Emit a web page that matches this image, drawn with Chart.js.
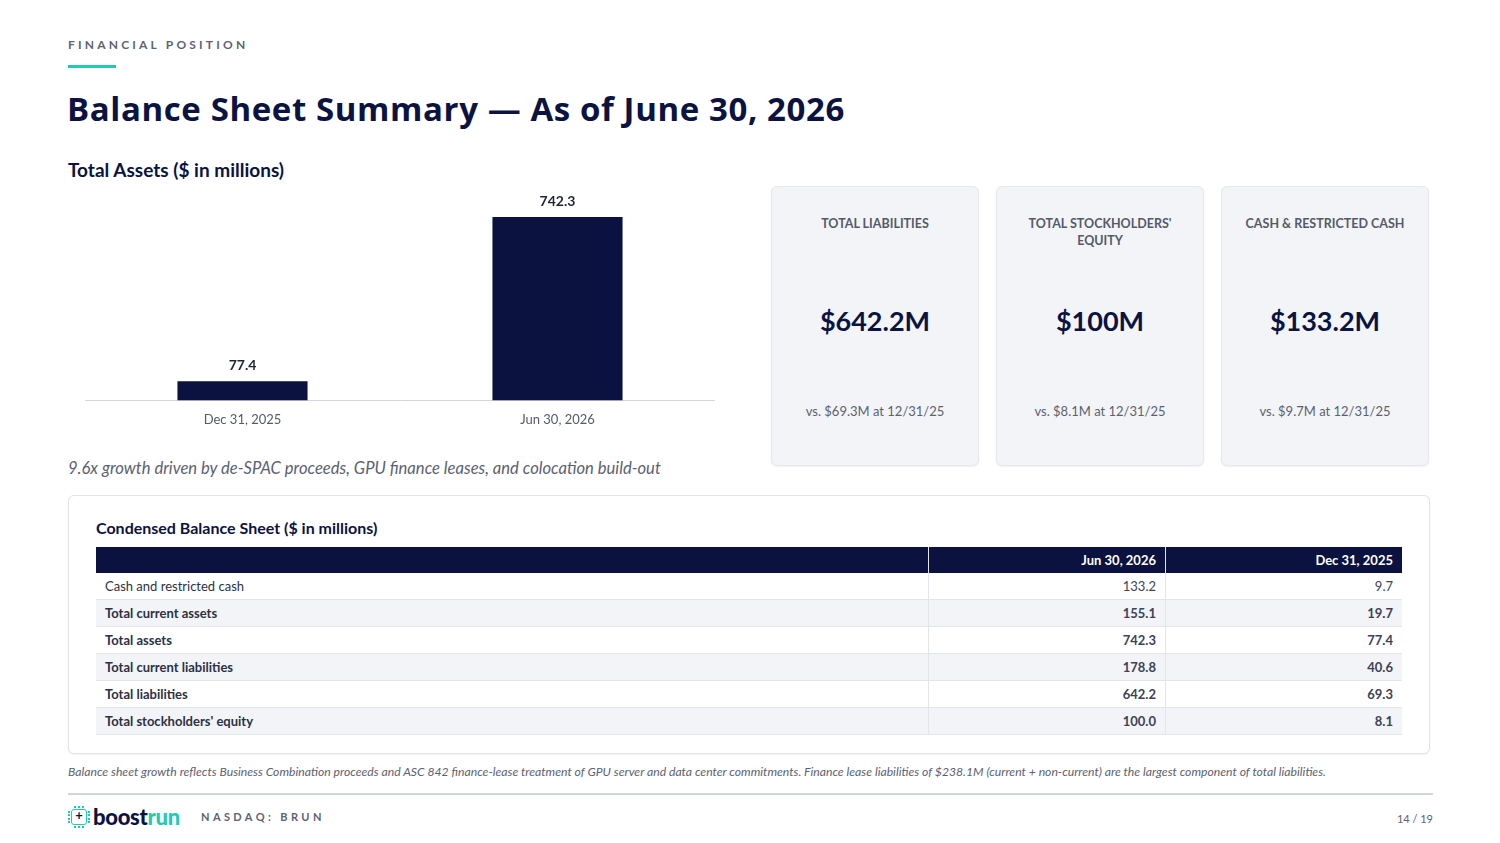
<!DOCTYPE html>
<html>
<head>
<meta charset="utf-8">
<script src="https://cdn.jsdelivr.net/npm/chart.js@4.4.1/dist/chart.umd.min.js"></script>
<style>
  html, body { margin: 0; padding: 0; background: #fff; }
  body { width: 1500px; height: 843px; position: relative; overflow: hidden;
         font-family: Lato, sans-serif; color: #0b1340; }
  .abs { position: absolute; }
  .kicker { left: 68px; top: 37px; font-size: 12px; font-weight: 700; letter-spacing: 3.2px; color: #5d6272; }
  .accent { left: 68px; top: 65px; width: 48px; height: 3px; background: #1ecbb3; }
  .title { left: 67px; top: 86px; font-family: "Open Sans", sans-serif; font-size: 33px; font-weight: 700;
           color: #0b1340; white-space: nowrap; letter-spacing: 0.6px; }
  .subhead { left: 68px; top: 158px; font-size: 19px; font-weight: 700; color: #0b1340; }
  .caption { left: 68px; top: 458px; font-size: 16.6px; font-style: italic; color: #5c6170; white-space: nowrap; }
  .card { top: 186px; width: 208px; height: 280px; background: #f3f4f7; border: 1px solid #e6e8ec;
          border-radius: 6px; box-sizing: border-box; box-shadow: 0 1px 2px rgba(0,0,0,0.06); text-align: center; }
  .card .lbl { position: absolute; left: 6px; right: 6px; top: 28px; font-size: 12.5px; font-weight: 700;
               color: #545a6a; line-height: 17px; }
  .card .val { position: absolute; left: 0; right: 0; top: 117px; font-size: 27px; font-weight: 700; color: #0b1340; }
  .card .sub { position: absolute; left: 0; right: 0; top: 216px; font-size: 13px; color: #5c6170; }
  .panel { left: 68px; top: 495px; width: 1362px; height: 259px; border: 1px solid #e1e3e8; border-radius: 6px;
           box-sizing: border-box; background: #fff; box-shadow: 0 1px 2px rgba(0,0,0,0.05); }
  .panel h3 { position: absolute; left: 27px; top: 22px; margin: 0; font-size: 16px; font-weight: 700; color: #0b1340; }
  table { position: absolute; left: 27px; top: 51px; width: 1306px; border-collapse: collapse; font-size: 13px; }
  th { background: #0b1240; color: #fff; height: 26px; text-align: right; padding: 0 9px; font-weight: 700; }
  td { height: 26px; padding: 0 9px; border-bottom: 1px solid #e3e5ea; color: #3c4258; }
  td.num { text-align: right; }
  tr.alt td { background: #f3f4f7; }
  td.name { text-align: left; color: #2c3144; }
  tr.bold td { font-weight: 700; }
  th + th, td + td { border-left: 1px solid #e3e5ea; }
  .foot { left: 68px; top: 764px; font-size: 12.2px; font-style: italic; color: #5c6170; white-space: nowrap; }
  .rule { left: 68px; top: 793px; width: 1365px; height: 2px; background: #d3d5dc; }
  .logo { left: 68px; top: 806px; height: 24px; }
  .chip { position: absolute; left: 3px; top: 3px; width: 16px; height: 16px; border: 1.5px solid #1ecbb3;
          border-radius: 3px; box-sizing: border-box; }
  .chip:before { content: "+"; position: absolute; left: 0; right: 0; top: -3px; text-align: center;
                 font-size: 13px; font-weight: 700; color: #0b1340; }
  .pins { position: absolute; left: 0; top: 5px; width: 22px; height: 12px;
          border-left: 2px dotted #1ecbb3; border-right: 2px dotted #1ecbb3; box-sizing: border-box; }
  .pins2 { position: absolute; left: 6px; top: 0; width: 10px; height: 22px;
           border-top: 2px dotted #1ecbb3; border-bottom: 2px dotted #1ecbb3; box-sizing: border-box; }
  .word { position: absolute; left: 25px; top: -3px; font-size: 22px; font-weight: 900; letter-spacing: -0.3px;
          white-space: nowrap; }
  .word .a { color: #0b1340; } .word .b { color: #1ecbb3; }
  .ticker { left: 201px; top: 810px; font-size: 11px; font-weight: 700; letter-spacing: 3.4px; color: #5d6272; }
  .page { right: 67px; top: 812px; font-size: 11px; color: #5d6272; }
  #chartBox { left: 85px; top: 188px; width: 630px; height: 252px; }
</style>
</head>
<body>
<div class="abs kicker">FINANCIAL POSITION</div>
<div class="abs accent"></div>
<div class="abs title">Balance Sheet Summary — As of June 30, 2026</div>
<div class="abs subhead">Total Assets ($ in millions)</div>
<div class="abs" id="chartBox"><canvas id="assets_chart"></canvas></div>
<div class="abs caption">9.6x growth driven by de-SPAC proceeds, GPU finance leases, and colocation build-out</div>

<div id="cards"></div>

<div class="abs panel">
  <h3>Condensed Balance Sheet ($ in millions)</h3>
  <table id="bs_table"></table>
</div>

<div class="abs foot">Balance sheet growth reflects Business Combination proceeds and ASC 842 finance-lease treatment of GPU server and data center commitments. Finance lease liabilities of $238.1M (current + non-current) are the largest component of total liabilities.</div>
<div class="abs rule"></div>
<div class="abs logo"><div class="pins"></div><div class="pins2"></div><div class="chip"></div><div class="word"><span class="a">boost</span><span class="b">run</span></div></div>
<div class="abs ticker">NASDAQ: BRUN</div>
<div class="abs page">14 / 19</div>

<script>
// chart data
const assetLabels = ["Dec 31, 2025", "Jun 30, 2026"];
const assetValues = [77.4, 742.3];

// KPI cards
const cardTitles = ["TOTAL LIABILITIES", "TOTAL STOCKHOLDERS'<br>EQUITY", "CASH &amp; RESTRICTED CASH"];
const cardValues = ["$642.2M", "$100M", "$133.2M"];
const cardNotes = ["vs. $69.3M at 12/31/25", "vs. $8.1M at 12/31/25", "vs. $9.7M at 12/31/25"];

// condensed balance sheet
const tableCols = ["", "Jun 30, 2026", "Dec 31, 2025"];
const tableRows = ["Cash and restricted cash", "Total current assets", "Total assets",
                   "Total current liabilities", "Total liabilities", "Total stockholders' equity"];
const jun2026 = ["133.2", "155.1", "742.3", "178.8", "642.2", "100.0"];
const dec2025 = ["9.7", "19.7", "77.4", "40.6", "69.3", "8.1"];

let cardsHtml = "";
for (let i = 0; i < cardTitles.length; i++) {
    cardsHtml += '<div class="abs card" style="left:' + (771 + i * 225) + 'px">' +
        '<div class="lbl">' + cardTitles[i] + '</div>' +
        '<div class="val">' + cardValues[i] + '</div>' +
        '<div class="sub">' + cardNotes[i] + '</div></div>';
}
document.getElementById("cards").innerHTML = cardsHtml;

let tableHtml = '<tr><th style="width:814px"></th><th style="width:218px">' + tableCols[1] +
                '</th><th>' + tableCols[2] + '</th></tr>';
for (let i = 0; i < tableRows.length; i++) {
    const cls = (i % 2 === 1 ? "alt " : "") + (i > 0 ? "bold" : "");
    tableHtml += '<tr class="' + cls + '"><td class="name">' + tableRows[i] + '</td><td class="num">' +
                 jun2026[i] + '</td><td class="num">' + dec2025[i] + '</td></tr>';
}
document.getElementById("bs_table").innerHTML = tableHtml;

const valueLabels = {
    id: "valueLabels",
    afterDatasetsDraw(chart) {
        const ctx = chart.ctx;
        const meta = chart.getDatasetMeta(0);
        ctx.save();
        ctx.font = "bold 14px Lato, sans-serif";
        ctx.fillStyle = "#1f2333";
        ctx.textAlign = "center";
        ctx.textBaseline = "bottom";
        meta.data.forEach((bar, i) => {
            ctx.fillText(chart.data.datasets[0].data[i].toFixed(1), bar.x, bar.y - 9);
        });
        ctx.restore();
    }
};

const assetsCtx = document.getElementById("assets_chart").getContext("2d");
const assetsChart = new Chart(assetsCtx, {
    type: "bar",
    data: {
        labels: assetLabels,
        datasets: [{
            label: "Total Assets",
            data: assetValues,
            backgroundColor: "#0b1240",
            categoryPercentage: 1,
            barPercentage: 0.413
        }]
    },
    options: {
        responsive: true,
        maintainAspectRatio: false,
        animation: false,
        layout: { padding: 0 },
        plugins: { legend: { display: false }, tooltip: { enabled: false } },
        scales: {
            x: {
                grid: { display: false, drawTicks: false },
                border: { color: "#d4d6dc" },
                ticks: { color: "#555a66", font: { size: 13, family: "Lato, sans-serif" }, padding: 12 }
            },
            y: { display: false, min: 0, max: 860 }
        }
    },
    plugins: [valueLabels]
});
</script>
</body>
</html>
